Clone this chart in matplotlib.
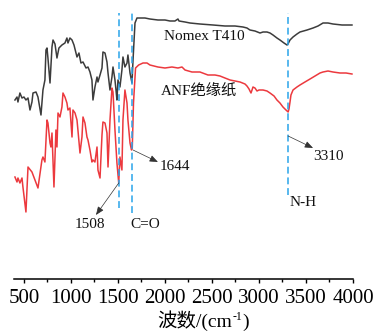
import matplotlib
matplotlib.use("Agg")
import matplotlib.pyplot as plt
from matplotlib.transforms import IdentityTransform

plt.rcParams['font.family'] = ['Liberation Serif', 'Noto Sans CJK SC', 'DejaVu Serif']

# Nomex T410 spectrum (wavenumber cm-1, transmittance a.u.)
nomex_wn = [404, 426, 436, 457, 479, 500, 521, 543, 564, 585, 596, 628, 649, 681, 702, 723,
            734, 745, 755, 777, 798, 809, 830, 851, 872, 904, 936, 957, 968, 989, 1011,
            1032, 1064, 1085, 1106, 1128, 1160, 1181, 1202, 1223, 1234, 1255, 1277, 1287,
            1309, 1330, 1340, 1362, 1383, 1394, 1415, 1436, 1447, 1468, 1479, 1489, 1500,
            1521, 1542, 1553, 1574, 1596, 1606, 1628, 1649, 1660, 1681, 1702, 1734, 1787,
            1840, 1925, 2000, 2053, 2106, 2138, 2149, 2213, 2266, 2372, 2511, 2638, 2745,
            2830, 2872, 2904, 2957, 3011, 3043, 3085, 3117, 3149, 3191, 3223, 3266, 3298,
            3308, 3330, 3362, 3404, 3436, 3511, 3575, 3628, 3681, 3734, 3787, 3883, 3989]
nomex_t = [179, 182, 177, 186, 181, 182, 179, 181, 169, 177, 186, 187, 182, 164, 189, 199,
           229, 231, 221, 196, 232, 239, 235, 221, 231, 234, 236, 241, 236, 241, 239,
           234, 222, 226, 216, 217, 211, 212, 207, 199, 179, 192, 202, 197,
           204, 211, 227, 226, 217, 206, 189, 202, 212, 199, 189, 179, 199,
           192, 209, 222, 212, 216, 224, 206, 196, 219, 256, 261, 261, 261,
           260, 259, 259, 258, 258, 260, 258, 257, 256, 255, 254, 253, 253,
           252, 251, 249, 248, 246, 247, 247, 246, 244, 241, 239, 236, 234,
           235, 239, 242, 245, 247, 249, 251, 253, 256, 256, 255, 254, 254]

# ANF insulating paper spectrum
anf_wn = [404, 426, 436, 457, 479, 489, 521, 543, 585, 617, 649, 691, 702, 723, 745, 755,
          777, 787, 798, 819, 840, 851, 862, 883, 904, 915, 936, 957, 968, 989, 1011, 1021,
          1043, 1064, 1074, 1096, 1117, 1128, 1149, 1170, 1181, 1202, 1223, 1234, 1255,
          1277, 1287, 1309, 1330, 1340, 1362, 1383, 1394, 1415, 1436, 1447, 1468, 1489,
          1508, 1521, 1542, 1553, 1574, 1596, 1606, 1628, 1644, 1652, 1665, 1687, 1720,
          1766, 1809, 1840, 1925, 2000, 2074, 2138, 2181, 2213, 2287, 2372, 2457, 2532,
          2585, 2638, 2692, 2745, 2798, 2851, 2872, 2894, 2904, 2915, 2926, 2936, 2957,
          2979, 3000, 3043, 3085, 3117, 3160, 3191, 3223, 3255, 3287, 3310, 3319, 3330,
          3340, 3362, 3404, 3436, 3489, 3543, 3596, 3649, 3681, 3734, 3787, 3862, 3926, 3989]
anf_t = [102, 97, 101, 96, 101, 92, 67, 112, 107, 99, 91, 119, 122, 117, 159, 156,
         136, 132, 146, 92, 149, 132, 166, 162, 172, 186, 182, 176, 169, 171, 142, 169,
         166, 159, 149, 126, 142, 162, 156, 142, 139, 129, 117, 119, 117,
         132, 109, 101, 144, 157, 156, 146, 112, 159, 191, 187, 149, 116,
         96, 122, 109, 159, 189, 176, 159, 136, 129, 131, 176, 211, 214,
         216, 216, 214, 212, 211, 212, 211, 212, 209, 207, 207, 204, 204,
         203, 201, 199, 198, 197, 195, 193, 190, 188, 186, 189, 192, 191,
         188, 189, 189, 188, 186, 183, 179, 176, 172, 169, 167, 170, 177,
         184, 189, 192, 194, 197, 200, 203, 206, 207, 208, 207, 206, 206, 205]

tick_vals = [500, 1000, 1500, 2000, 2500, 3000, 3500, 4000]
marker_wn = [1508, 1644, 3310]

fig = plt.figure(figsize=(3.76, 3.33), dpi=100)
ax = fig.add_axes([14/376, 54/333, 339/376, 274/333])

ax.plot(nomex_wn, nomex_t, color='#3c3c3c', lw=1.1)
ax.plot(anf_wn, anf_t, color='#ec393e', lw=1.1)

dash_c = '#2aa4ea'
ax.plot([marker_wn[0]]*2, [71, 266], ls=(0, (4.5, 2.5)), color=dash_c, lw=1.1)
ax.plot([marker_wn[1]]*2, [66, 266], ls=(0, (4.5, 2.5)), color=dash_c, lw=1.1)
ax.plot([marker_wn[2]]*2, [84, 266], ls=(0, (4.5, 2.5)), color=dash_c, lw=1.1)

ax.set_xlim(394, 4000)
ax.set_ylim(0, 274)

fs = 11
tc = '#111111'
ax.text(1989, 243, 'Nomex T410', fontsize=fs, va='center', ha='left', color=tc)
ax.text(1957, 187, 'ANF绝缘纸', fontsize=fs, va='center', ha='left', color=tc)
ax.text(1947, 113, '1644', fontsize=fs, va='center', ha='left', color=tc)
ax.text(1043, 54, '1508', fontsize=fs, va='center', ha='left', color=tc)
ax.text(1628, 54, 'C=O', fontsize=fs, va='center', ha='left', color=tc)
ax.text(3575, 122, '3310', fontsize=fs, va='center', ha='left', color=tc)
ax.text(3330, 77, 'N-H', fontsize=fs, va='center', ha='left', color=tc)

ap = dict(arrowstyle='-|>,head_length=0.5,head_width=0.2', color='#333333', lw=0.5,
          shrinkA=0, shrinkB=0)
ax.annotate('', xy=(1266, 64), xytext=(1508, 96), arrowprops=ap)
ax.annotate('', xy=(1925, 117), xytext=(1660, 129), arrowprops=ap)
ax.annotate('', xy=(3575, 131), xytext=(3310, 143), arrowprops=ap)

for s in ['left', 'top', 'right']:
    ax.spines[s].set_visible(False)
ax.spines['bottom'].set_linewidth(1.1)
ax.set_yticks([])
ax.set_xticks(tick_vals)
ax.set_xticks([750, 1250, 1750, 2250, 2750, 3250, 3750], minor=True)
ax.tick_params(axis='x', which='major', direction='out', length=3, width=1, pad=4,
               labelsize=15)
ax.tick_params(axis='x', which='minor', direction='out', length=2, width=1)

# x-axis label composed of pieces (small superscript)
fig.canvas.draw()
r = fig.canvas.get_renderer()
parts = [('波数/(cm', 14, 0), ('-1', 8.5, 7), (')', 14, 0)]
texts = [fig.text(0, 0, s, fontsize=f, transform=IdentityTransform(), va='baseline')
         for s, f, _ in parts]
widths = [t.get_window_extent(r).width for t in texts]
x = 203 - sum(widths) / 2
base = 333 - 327
for t, w, (_, _, dy) in zip(texts, widths, parts):
    t.set_position((x, base + dy))
    x += w

fig.savefig('out.png', dpi=100)
